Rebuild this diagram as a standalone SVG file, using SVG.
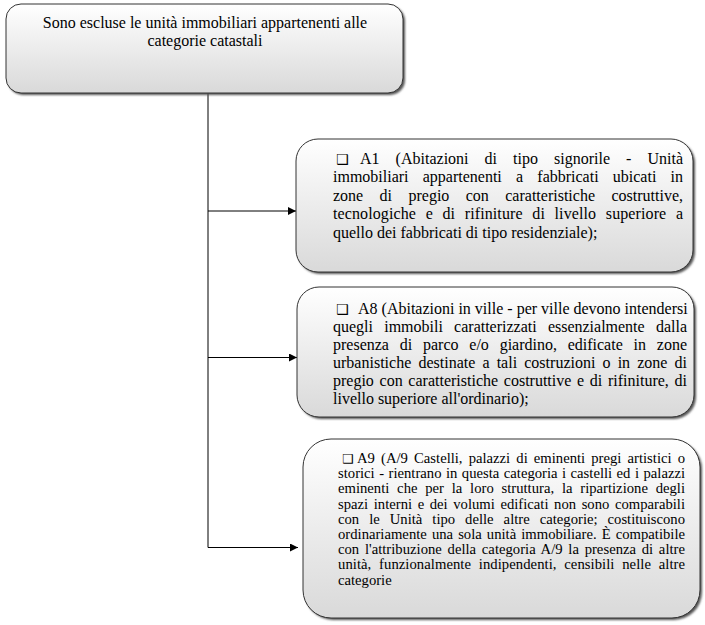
<svg xmlns="http://www.w3.org/2000/svg" width="705" height="625" viewBox="0 0 705 625">
<defs>
<linearGradient id="g" x1="0" y1="0" x2="0" y2="1">
<stop offset="0" stop-color="#ffffff"/>
<stop offset="1" stop-color="#d9d9d9"/>
</linearGradient>
<filter id="sh" x="-5%" y="-5%" width="110%" height="110%">
<feGaussianBlur stdDeviation="0.8"/>
</filter>
<marker id="ah" viewBox="0 0 10 10" refX="10" refY="5" markerWidth="9" markerHeight="8" markerUnits="userSpaceOnUse" orient="auto">
<path d="M0,0 L10,5 L0,10 z" fill="#000"/>
</marker>
</defs>
<style>
.box{fill:url(#g);stroke:#333;stroke-width:1}
.shadow{fill:#555;filter:url(#sh)}
.t16{font-family:"Liberation Serif","Times New Roman",serif;font-size:16px;fill:#000}
.t14{font-family:"Liberation Serif","Times New Roman",serif;font-size:14.67px;fill:#000}
.bul{font-family:"DejaVu Sans",sans-serif;fill:#000}
.conn{stroke:#000;stroke-width:1;fill:none}
</style>
<rect width="705" height="625" fill="#fff"/>
<g id="connectors">
<line class="conn" x1="208" y1="93" x2="208" y2="547.5"/>
<line class="conn" x1="208" y1="211" x2="296" y2="211" marker-end="url(#ah)"/>
<line class="conn" x1="208" y1="357.5" x2="297" y2="357.5" marker-end="url(#ah)"/>
<line class="conn" x1="208" y1="547.5" x2="298" y2="547.5" marker-end="url(#ah)"/>
</g>
<g id="top">
<rect class="shadow" x="8" y="6" width="397" height="89" rx="15"/>
<rect class="box" x="6" y="4" width="397" height="89" rx="15"/>
<text class="t16" x="205" y="28" text-anchor="middle">Sono escluse le unità immobiliari appartenenti alle</text>
<text class="t16" x="205" y="46" text-anchor="middle">categorie catastali</text>
</g>
<g id="a1">
<rect class="shadow" x="298" y="141" width="397" height="133" rx="22"/>
<rect class="box" x="296" y="139" width="397" height="133" rx="22"/>
<text class="bul" x="336" y="164" font-size="14">❑</text>
<text class="t16" x="360" y="164" word-spacing="12" textLength="323" lengthAdjust="spacing">A1 (Abitazioni di tipo signorile - Unità</text>
<text class="t16" x="333" y="182.4" word-spacing="10.2" textLength="350" lengthAdjust="spacing">immobiliari appartenenti a fabbricati ubicati in</text>
<text class="t16" x="333" y="200.8" word-spacing="12.4" textLength="350" lengthAdjust="spacing">zone di pregio con caratteristiche costruttive,</text>
<text class="t16" x="333" y="219.2" word-spacing="5.5" textLength="350" lengthAdjust="spacing">tecnologiche e di rifiniture di livello superiore a</text>
<text class="t16" x="333" y="237.6">quello dei fabbricati di tipo residenziale);</text>
</g>
<g id="a8">
<rect class="shadow" x="299" y="289" width="397" height="130" rx="22"/>
<rect class="box" x="297" y="287" width="397" height="130" rx="22"/>
<text class="bul" x="336" y="313.5" font-size="14">❑</text>
<text class="t16" x="358" y="313.5">A8 (Abitazioni in ville - per ville devono intendersi</text>
<text class="t16" x="333" y="331.5" word-spacing="7.3" textLength="354" lengthAdjust="spacing">quegli immobili caratterizzati essenzialmente dalla</text>
<text class="t16" x="333" y="349.5" word-spacing="6.8" textLength="354" lengthAdjust="spacing">presenza di parco e/o giardino, edificate in zone</text>
<text class="t16" x="333" y="367.5" word-spacing="3.1" textLength="354" lengthAdjust="spacing">urbanistiche destinate a tali costruzioni o in zone di</text>
<text class="t16" x="333" y="385.5" word-spacing="1.7" textLength="354" lengthAdjust="spacing">pregio con caratteristiche costruttive e di rifiniture, di</text>
<text class="t16" x="333" y="403.5">livello superiore all'ordinario);</text>
</g>
<g id="a9">
<rect class="shadow" x="305" y="441" width="397" height="179" rx="28"/>
<rect class="box" x="303" y="439" width="397" height="179" rx="28"/>
<text class="bul" x="342" y="463" font-size="12.5">❑</text>
<text class="t14" x="357" y="463" word-spacing="2.45" textLength="328" lengthAdjust="spacing">A9 (A/9 Castelli, palazzi di eminenti pregi artistici o</text>
<text class="t14" x="338" y="478.2" word-spacing="0.8" textLength="347" lengthAdjust="spacing">storici - rientrano in questa categoria i castelli ed i palazzi</text>
<text class="t14" x="338" y="493.4" word-spacing="4.1" textLength="347" lengthAdjust="spacing">eminenti che per la loro struttura, la ripartizione degli</text>
<text class="t14" x="338" y="508.6" word-spacing="1.9" textLength="347" lengthAdjust="spacing">spazi interni e dei volumi edificati non sono comparabili</text>
<text class="t14" x="338" y="523.8" word-spacing="6.3" textLength="347" lengthAdjust="spacing">con le Unità tipo delle altre categorie; costituiscono</text>
<text class="t14" x="338" y="539" word-spacing="1.4" textLength="347" lengthAdjust="spacing">ordinariamente una sola unità immobiliare. È compatibile</text>
<text class="t14" x="338" y="554.2" word-spacing="2" textLength="347" lengthAdjust="spacing">con l'attribuzione della categoria A/9 la presenza di altre</text>
<text class="t14" x="338" y="569.4" word-spacing="4" textLength="347" lengthAdjust="spacing">unità, funzionalmente indipendenti, censibili nelle altre</text>
<text class="t14" x="338" y="584.6">categorie</text>
</g>
</svg>
